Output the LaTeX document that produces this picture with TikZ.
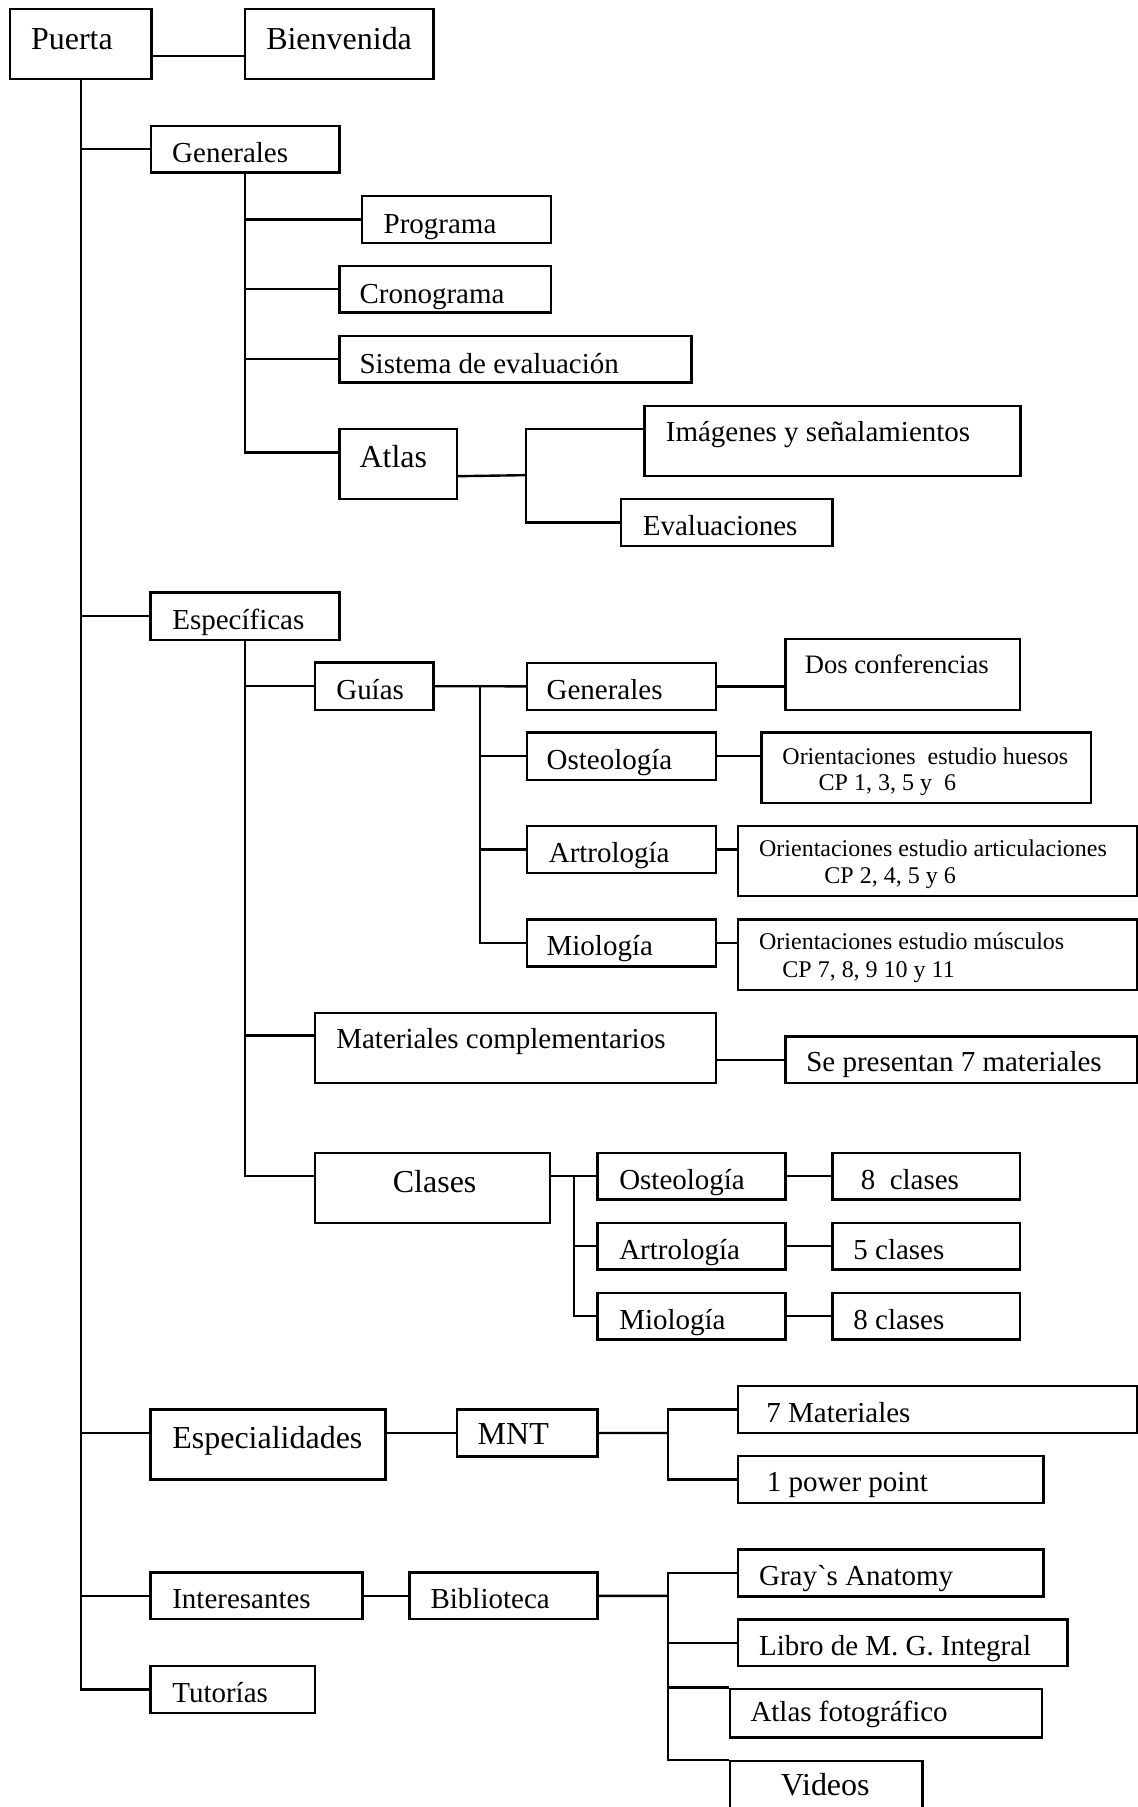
\documentclass[tikz,border=0pt]{standalone}
\usepackage{fontspec}
\setmainfont{Liberation Serif}
\usetikzlibrary{calc}

\tikzset{
	box/.style 2 args={draw, rectangle, anchor=north west, inner sep=0pt, minimum width=#1*0.5765pt, minimum height=#2*0.5765pt},
	txt/.style={anchor=base west, inner sep=0pt, font=\fontsize{14.5}{17}\selectfont},
	bigtxt/.style={txt, font=\fontsize{16}{19}\selectfont},
	midtxt/.style={txt, font=\fontsize{13.3}{16}\selectfont},
	smalltxt/.style={txt, font=\fontsize{12}{14}\selectfont}
}

\begin{document}
\begin{tikzpicture}[x=0.5765pt, y=-0.5765pt, line width=1.2pt]
	\useasboundingbox (0,0) rectangle (987,1568);
	\node[box={122.8}{60.7}] (puerta) at (7.6,6.8) {};
	\node[box={163.7}{60.7}] (bienv) at (211.4,6.8) {};
	\node[box={163.3}{40.6}] (gen) at (130.1,108.1) {};
	\node[box={163.7}{40.6}] (prog) at (313.3,169.1) {};
	\node[box={183.6}{40.3}] (crono) at (293.4,229.8) {};
	\node[box={305.6}{40.3}] (sist) at (293.4,290.5) {};
	\node[box={101.9}{60.7}] (atlas) at (293.4,371.4) {};
	\node[box={326.3}{60.7}] (imag) at (558.3,351.3) {};
	\node[box={183.6}{40.5}] (evalu) at (537.8,432.2) {};
	\node[box={163.7}{41}] (espe) at (129.7,513.2) {};
	\node[box={102.5}{41}] (guias) at (272.5,573.9) {};
	\node[box={163.7}{41}] (gen2) at (456.3,574) {};
	\node[box={203.9}{61.4}] (dos) at (680.4,553.6) {};
	\node[box={163.7}{41}] (ost) at (456.3,634.6) {};
	\node[box={285.8}{61.3}] (hues) at (659.6,634.6) {};
	\node[box={163.7}{41.1}] (art) at (456.3,715.5) {};
	\node[box={346.1}{60.8}] (artic) at (639.5,715.5) {};
	\node[box={163.7}{40.5}] (mio) at (456.3,797) {};
	\node[box={346.1}{60.8}] (musc) at (639.5,797) {};
	\node[box={347.5}{60.7}] (matc) at (272.5,878) {};
	\node[box={305.2}{40.4}] (sepres) at (680.4,898.3) {};
	\node[box={203.9}{61}] (clases) at (272.5,999.4) {};
	\node[box={163}{40.5}] (ost2) at (517.4,999.4) {};
	\node[box={163}{40.5}] (c8a) at (721.3,999.4) {};
	\node[box={163}{40.5}] (art2) at (517.4,1060.1) {};
	\node[box={163}{40.5}] (c5) at (721.3,1060.1) {};
	\node[box={163}{40.5}] (mio2) at (517.4,1120.8) {};
	\node[box={163}{40.5}] (c8b) at (721.3,1120.8) {};
	\node[box={203.9}{60.8}] (espec) at (129.7,1222) {};
	\node[box={122.1}{40.8}] (mnt) at (395.3,1222) {};
	\node[box={346.1}{40.4}] (mat7) at (639.5,1201.8) {};
	\node[box={264.9}{40.8}] (ppt) at (639.5,1262.5) {};
	\node[box={183.7}{40.5}] (inter) at (129.7,1363.5) {};
	\node[box={163}{40.5}] (bib) at (354.4,1363.5) {};
	\node[box={264.9}{40.8}] (gray) at (639.5,1343.5) {};
	\node[box={285.7}{40.5}] (libro) at (639.5,1404.2) {};
	\node[box={270.6}{42.2}] (afoto) at (632.6,1464.3) {};
	\node[box={166.7}{60}] (vid) at (632.6,1527) {};
	\node[box={142.8}{40.8}] (tutor) at (129.7,1444.6) {};

	\node[bigtxt] (puerta-t) at (25.9,42.7) {Puerta};
	\node[bigtxt] (bienv-t) at (230,42.7) {Bienvenida};
	\node[txt] (gen-t) at (148.4,141) {Generales};
	\node[txt] (prog-t) at (331.9,202.5) {Programa};
	\node[txt] (crono-t) at (311,263) {Cronograma};
	\node[txt] (sist-t) at (311,324.3) {Sistema de evaluación};
	\node[bigtxt] (atlas-t) at (311,405.8) {Atlas};
	\node[txt] (imag-t) at (576.8,383.1) {Imágenes y señalamientos};
	\node[txt] (evalu-t) at (556.8,464.4) {Evaluaciones};
	\node[txt] (espe-t) at (148.5,546.2) {Específicas};
	\node[txt] (guias-t) at (290.8,606.8) {Guías};
	\node[txt] (gen2-t) at (473.3,606.8) {Generales};
	\node[midtxt] (dos-t) at (697.4,584.6) {Dos conferencias};
	\node[txt] (ost-t) at (473.3,667.6) {Osteología};
	\node[smalltxt] (hues-t) at (677.9,663.5) {Orientaciones\ \ estudio huesos};
	\node[smalltxt] (hues-t2) at (709.4,685.8) {CP 1, 3, 5 y\ \ 6};
	\node[txt] (art-t) at (475.2,748.5) {Artrología};
	\node[smalltxt] (artic-t) at (657.7,743.6) {Orientaciones estudio articulaciones};
	\node[smalltxt] (artic-t2) at (714.4,766.7) {CP 2, 4, 5 y 6};
	\node[txt] (mio-t) at (473.3,829.5) {Miología};
	\node[smalltxt] (musc-t) at (657.7,824) {Orientaciones estudio músculos};
	\node[smalltxt] (musc-t2) at (677.9,848.5) {CP 7, 8, 9 10 y 11};
	\node[txt] (matc-t) at (290.8,910) {Materiales complementarios};
	\node[txt] (sepres-t) at (698.6,930) {Se presentan 7 materiales};
	\node[bigtxt] (clases-t) at (339.9,1034.4) {Clases};
	\node[txt] (ost2-t) at (536.3,1032.4) {Osteología};
	\node[txt] (c8a-t) at (745.9,1032.4) {8\ \ clases};
	\node[txt] (art2-t) at (536.3,1092.6) {Artrología};
	\node[txt] (c5-t) at (739.5,1092.6) {5 clases};
	\node[txt] (mio2-t) at (536.3,1153.3) {Miología};
	\node[txt] (c8b-t) at (739.5,1153.3) {8 clases};
	\node[bigtxt] (espec-t) at (148.5,1257) {Especialidades};
	\node[bigtxt] (mnt-t) at (413.5,1253.3) {MNT};
	\node[txt] (mat7-t) at (664,1234) {7 Materiales};
	\node[txt] (ppt-t) at (664.5,1294.3) {1 power point};
	\node[txt] (inter-t) at (148.5,1396) {Interesantes};
	\node[txt] (bib-t) at (372.6,1396) {Biblioteca};
	\node[txt] (gray-t) at (657.7,1376) {Gray\textasciigrave s Anatomy};
	\node[txt] (libro-t) at (657.7,1436.6) {Libro de M. G. Integral};
	\node[txt] (afoto-t) at (650.2,1494.1) {Atlas fotográfico};
	\node[bigtxt] (vid-t) at (676.6,1558.3) {Videos};
	\node[txt] (tutor-t) at (148.5,1477) {Tutorías};

	\draw ([yshift=-5.9pt]puerta.east) -- ([yshift=-5.9pt]bienv.west);
	\draw (puerta.south) |- (tutor.west);
	\draw (puerta.south |- gen.west) -- (gen.west);
	\draw (puerta.south |- espe.west) -- (espe.west);
	\draw (puerta.south |- mnt.west) -- (espec.west |- mnt.west);
	\draw (puerta.south |- inter.west) -- (inter.west);
	\draw (gen.south) |- ([yshift=5.8pt]atlas.west);
	\draw (gen.south |- prog.west) -- (prog.west);
	\draw (gen.south |- crono.west) -- (crono.west);
	\draw (gen.south |- sist.west) -- (sist.west);
	\coordinate (atj) at (456.3,412.3);
	\draw ([yshift=-6pt]atlas.east) -- (atj);
	\draw ([yshift=5.9pt]imag.west) -| (atj) |- (evalu.west);
	\draw (espe.south) |- (clases.west |- ost2.west);
	\draw (espe.south |- guias.west) -- (guias.west);
	\draw ([yshift=6.2pt]matc.west) -- ([yshift=6.2pt]matc.west -| espe.south);
	\draw (guias.east) -- (gen2.west);
	\coordinate (guj) at ($(guias.east)!0.5!(gen2.west)$);
	\draw (guj) |- (mio.west);
	\draw (guj |- ost.west) -- (ost.west);
	\draw (guj |- art.west) -- (art.west);
	\draw (gen2.east) -- (gen2.east -| dos.west);
	\draw (ost.east) -- (ost.east -| hues.west);
	\draw (art.east) -- (art.east -| artic.west);
	\draw (mio.east) -- (mio.east -| musc.west);
	\draw (sepres.west -| matc.east) -- (sepres.west);
	\coordinate (clj) at ($(clases.east |- ost2.west)!0.5!(ost2.west)$);
	\draw (clases.east |- ost2.west) -- (ost2.west);
	\draw (clj) |- (mio2.west);
	\draw (clj |- art2.west) -- (art2.west);
	\draw (ost2.east) -- (c8a.west);
	\draw (art2.east) -- (c5.west);
	\draw (mio2.east) -- (c8b.west);
	\draw (espec.east |- mnt.west) -- (mnt.west);
	\coordinate (mnj) at ($(mnt.east)!0.5!(mnt.east -| mat7.west)$);
	\draw (mnt.east) -- (mnj);
	\draw (mat7.west) -| (mnj) |- (ppt.west);
	\draw (inter.east) -- (bib.west);
	\coordinate (bij) at ($(bib.east)!0.5!(bib.east -| gray.west)$);
	\draw (bib.east) -- (bij);
	\draw (gray.west) -| (bij |- vid.north west) -- (vid.north west);
	\draw (bij |- libro.west) -- (libro.west);
	\draw (bij |- afoto.north west) -- (afoto.north west);
\end{tikzpicture}
\end{document}
